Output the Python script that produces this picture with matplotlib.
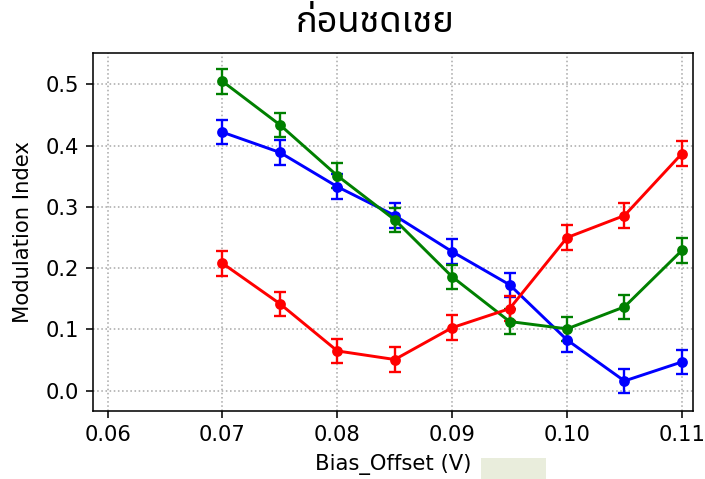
import matplotlib
matplotlib.use("Agg")
import matplotlib.pyplot as plt
from matplotlib.patches import Rectangle

bias = [0.07, 0.075, 0.08, 0.085, 0.09, 0.095, 0.10, 0.105, 0.11]
blue_vals = [0.422, 0.389, 0.333, 0.286, 0.227, 0.173, 0.083, 0.016, 0.047]
green_vals = [0.505, 0.434, 0.351, 0.279, 0.186, 0.113, 0.101, 0.137, 0.229]
red_vals = [0.208, 0.142, 0.065, 0.051, 0.103, 0.134, 0.250, 0.286, 0.387]
err = 0.02

title = "ก่อนชดเชย"
xlabel = "Bias_Offset (V)"
ylabel = "Modulation Index"

plt.rcParams['font.family'] = ['DejaVu Sans']
fig = plt.figure(figsize=(5.0, 479 / 141), dpi=141)
ax = fig.add_axes([0.1315, 0.142, 0.852, 0.747])

for vals, c in [(blue_vals, "blue"), (green_vals, "green"), (red_vals, "red")]:
    ax.errorbar(bias, vals, yerr=err, color=c, marker="o", markersize=4.5,
                linewidth=1.5, capsize=3, elinewidth=1.2, capthick=1.2)

ax.set_xlim(0.0587, 0.1110)
ax.set_ylim(-0.033, 0.551)
ax.set_xticks([0.06, 0.07, 0.08, 0.09, 0.10, 0.11])
ax.set_xticklabels(["0.06", "0.07", "0.08", "0.09", "0.10", "0.11"])
ax.set_yticks([0.0, 0.1, 0.2, 0.3, 0.4, 0.5])
ax.tick_params(labelsize=10.8)
ax.grid(True, linestyle=":", color="#aaaaaa", linewidth=0.8)
ax.set_xlabel(xlabel, fontsize=10.8, labelpad=4.5)
ax.set_ylabel(ylabel, fontsize=10.8, labelpad=6.5)
fig.text(0.532, 0.952, title, ha="center", va="center", fontsize=18.5,
         family=["Noto Sans Thai", "DejaVu Sans"])

fig.patches.append(Rectangle((481 / 705, 0), 65 / 705, 21 / 479,
                             transform=fig.transFigure, facecolor="#e9eddc",
                             edgecolor="none"))
fig.savefig("out.png", dpi=141)
